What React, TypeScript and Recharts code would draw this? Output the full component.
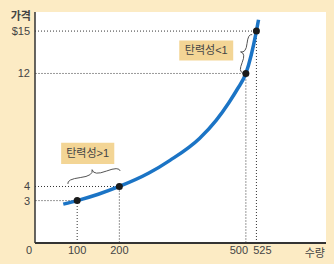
import React from 'react'
import {
  ComposedChart,
  Line,
  Scatter,
  XAxis,
  YAxis,
  CartesianGrid,
  ReferenceLine,
  ReferenceArea,
  Label,
} from 'recharts'

// supply curve
const curveQty = [67, 100, 150, 200, 270, 320, 390, 430, 460, 480, 500, 525, 530]
const curvePrice = [2.75, 3, 3.45, 4, 4.95, 5.85, 7.4, 8.7, 9.95, 10.9, 12, 15, 15.8]

// marked points
const markQty = [100, 200, 500, 525]
const markPrice = [3, 4, 12, 15]

const xTicks = [0, 100, 200, 500, 525]
const yTicks = [3, 4, 12, 15]

const FONT = "'Liberation Sans', 'Noto Sans CJK KR', sans-serif"
const BG = '#fcebc4'
const BOX = '#f3d595'
const TXT = '#444'

const curve = curveQty.map((q, i) => ({ q, p: curvePrice[i] }))
const marks = markQty.map((q, i) => ({ q, p: markPrice[i] }))

// curly brace from (x1,y1) to (x2,y2), bulging to the side of (dy,-dx)
function bracePath(x1: number, y1: number, x2: number, y2: number, w: number, q: number) {
  let dx = x1 - x2
  let dy = y1 - y2
  const len = Math.sqrt(dx * dx + dy * dy)
  dx /= len
  dy /= len
  const qx1 = x1 + q * w * dy
  const qy1 = y1 - q * w * dx
  const qx2 = x1 - 0.25 * len * dx + (1 - q) * w * dy
  const qy2 = y1 - 0.25 * len * dy - (1 - q) * w * dx
  const tx1 = x1 - 0.5 * len * dx + w * dy
  const ty1 = y1 - 0.5 * len * dy - w * dx
  const qx3 = x2 + q * w * dy
  const qy3 = y2 - q * w * dx
  const qx4 = x1 - 0.75 * len * dx + (1 - q) * w * dy
  const qy4 = y1 - 0.75 * len * dy - (1 - q) * w * dx
  return `M ${x1} ${y1} Q ${qx1} ${qy1} ${qx2} ${qy2} T ${tx1} ${ty1} M ${x2} ${y2} Q ${qx3} ${qy3} ${qx4} ${qy4} T ${tx1} ${ty1}`
}

function Brace(props: any) {
  const { x, y, width, height, depth } = props
  return (
    <path
      d={bracePath(x + width, y, x, y + height, depth, 0.6)}
      fill="none"
      stroke="#555"
      strokeWidth={1}
    />
  )
}

function XTick(props: any) {
  const { x, y, payload } = props
  const shift: Record<number, number> = { 0: -6, 500: -7, 525: 6 }
  return (
    <text
      x={x + (shift[payload.value] ?? 0)}
      y={y + 9}
      textAnchor="middle"
      fontSize={11}
      fontFamily={FONT}
      fill={TXT}
    >
      {payload.value}
    </text>
  )
}

const dark = { stroke: '#333', strokeDasharray: '1 2', strokeWidth: 1 }
const light = { stroke: '#999', strokeDasharray: '2 1', strokeWidth: 1 }

export default function App() {
  return (
    <div style={{ position: 'absolute', left: 0, top: 0, width: 334, height: 264, background: BG }}>
      <ComposedChart width={334} height={264} margin={{ top: 12, right: 8, left: 5, bottom: 0 }}>
        <CartesianGrid fill="#fff" stroke="none" />
        <XAxis
          type="number"
          dataKey="q"
          domain={[0, 690]}
          ticks={xTicks}
          interval={0}
          height={21}
          tickLine={false}
          tickSize={0}
          tick={<XTick />}
          axisLine={{ stroke: '#333', strokeWidth: 2 }}
          allowDataOverflow
        >
          <Label
            value="수량"
            position="insideRight"
            offset={1}
            fontSize={11}
            fontFamily={FONT}
            fill={TXT}
          />
        </XAxis>
        <YAxis
          type="number"
          dataKey="p"
          domain={[0, 16.35]}
          ticks={yTicks}
          interval={0}
          width={30}
          tickLine={false}
          tickSize={0}
          tickMargin={5}
          tickFormatter={(v: number) => (v === 15 ? '$15' : String(v))}
          tick={{ fontSize: 11, fontFamily: FONT, fill: TXT }}
          axisLine={{ stroke: '#333', strokeWidth: 1.5 }}
          allowDataOverflow
        >
          <Label
            position="insideTopLeft"
            content={({ viewBox }: any) => (
              <text
                x={viewBox.x + viewBox.width - 4}
                y={viewBox.y + 8}
                textAnchor="end"
                fontSize={11}
                fontWeight="bold"
                fontFamily={FONT}
                fill={TXT}
              >
                가격
              </text>
            )}
          />
        </YAxis>

        <ReferenceLine segment={[{ x: 0, y: 15 }, { x: 525, y: 15 }]} {...dark} />
        <ReferenceLine segment={[{ x: 0, y: 12 }, { x: 500, y: 12 }]} {...light} />
        <ReferenceLine segment={[{ x: 0, y: 4 }, { x: 200, y: 4 }]} {...dark} />
        <ReferenceLine segment={[{ x: 0, y: 3 }, { x: 100, y: 3 }]} {...light} />
        <ReferenceLine segment={[{ x: 100, y: 0 }, { x: 100, y: 3 }]} {...dark} />
        <ReferenceLine segment={[{ x: 200, y: 0 }, { x: 200, y: 4 }]} {...light} />
        <ReferenceLine segment={[{ x: 500, y: 0 }, { x: 500, y: 12 }]} {...light} />
        <ReferenceLine segment={[{ x: 525, y: 0 }, { x: 525, y: 15 }]} {...dark} />

        <ReferenceArea x1={62} x2={188} y1={5.6} y2={7.09} fill={BOX} fillOpacity={1} stroke="none">
          <Label value="탄력성>1" position="center" fontSize={11} fontFamily={FONT} fill={TXT} />
        </ReferenceArea>
        <ReferenceArea x1={342} x2={470} y1={12.91} y2={14.33} fill={BOX} fillOpacity={1} stroke="none">
          <Label value="탄력성<1" position="center" fontSize={11} fontFamily={FONT} fill={TXT} />
        </ReferenceArea>

        <ReferenceArea x1={78} x2={202} y1={4.18} y2={5.1} shape={(p: any) => <Brace {...p} depth={8} />} />
        <ReferenceArea x1={492} x2={515} y1={12.06} y2={14.75} shape={(p: any) => <Brace {...p} depth={7} />} />

        <Line
          data={curve}
          dataKey="p"
          type="monotone"
          stroke="#1b74c5"
          strokeWidth={3.5}
          dot={false}
          isAnimationActive={false}
        />
        <Scatter
          data={marks}
          dataKey="p"
          fill="#1a1a1a"
          shape={(p: any) => <circle cx={p.cx} cy={p.cy} r={3.5} fill="#1a1a1a" />}
          isAnimationActive={false}
        />
      </ComposedChart>
    </div>
  )
}
